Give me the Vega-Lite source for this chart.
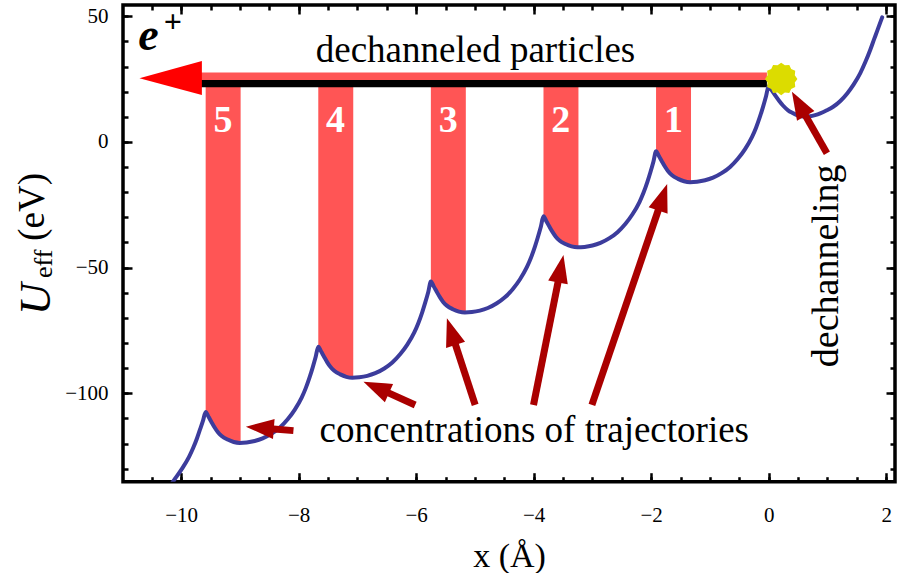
{
  "$schema": "https://vega.github.io/schema/vega-lite/v6.json",
  "width": 772,
  "height": 476.7,
  "autosize": {"type": "none"},
  "padding": {"left": 123, "top": 5, "right": 12, "bottom": 91.3},
  "background": "white",
  "config": {
    "view": {"stroke": "black", "strokeWidth": 3.5},
    "font": "Liberation Serif",
    "axis": {"domain": false, "grid": false, "labelFont": "Liberation Serif", "labelFontSize": 21, "labelColor": "black", "tickColor": "black", "tickWidth": 2.5, "titleFont": "Liberation Serif", "labelFlush": false}
  },
  "resolve": {"axis": {"x": "independent", "y": "independent"}},
  "datasets": {
    "curve": [
      {"x": -10.25, "y": -139}, {"x": -10.104, "y": -134.0}, {"x": -9.985, "y": -130.0}, {"x": -9.866, "y": -125.3}, {"x": -9.798, "y": -121.9}, {"x": -9.73, "y": -117.9}, {"x": -9.679, "y": -114.4}, {"x": -9.628, "y": -110.9},
      {"x": -9.583, "y": -107.42}, {"x": -9.532, "y": -109.45}, {"x": -9.481, "y": -111.6}, {"x": -9.43, "y": -113.63}, {"x": -9.374, "y": -115.54}, {"x": -9.311, "y": -117.01}, {"x": -9.209, "y": -118.44}, {"x": -9.106, "y": -119.4}, {"x": -9.004, "y": -119.76}, {"x": -8.885, "y": -119.59}, {"x": -8.749, "y": -119.02}, {"x": -8.613, "y": -117.97}, {"x": -8.46, "y": -116.09}, {"x": -8.323, "y": -113.71}, {"x": -8.187, "y": -110.36}, {"x": -8.068, "y": -106.6}, {"x": -7.949, "y": -101.73}, {"x": -7.881, "y": -98.07}, {"x": -7.813, "y": -93.61}, {"x": -7.762, "y": -89.79}, {"x": -7.711, "y": -85.61},
      {"x": -7.666, "y": -81.48}, {"x": -7.615, "y": -83.51}, {"x": -7.564, "y": -85.66}, {"x": -7.513, "y": -87.69}, {"x": -7.457, "y": -89.6}, {"x": -7.394, "y": -91.07}, {"x": -7.292, "y": -92.5}, {"x": -7.189, "y": -93.46}, {"x": -7.087, "y": -93.82}, {"x": -6.968, "y": -93.65}, {"x": -6.832, "y": -93.08}, {"x": -6.696, "y": -92.03}, {"x": -6.543, "y": -90.15}, {"x": -6.406, "y": -87.77}, {"x": -6.27, "y": -84.42}, {"x": -6.151, "y": -80.66}, {"x": -6.032, "y": -75.79}, {"x": -5.964, "y": -72.13}, {"x": -5.896, "y": -67.67}, {"x": -5.845, "y": -63.85}, {"x": -5.794, "y": -59.67},
      {"x": -5.75, "y": -55.54}, {"x": -5.699, "y": -57.57}, {"x": -5.648, "y": -59.72}, {"x": -5.597, "y": -61.75}, {"x": -5.541, "y": -63.66}, {"x": -5.478, "y": -65.13}, {"x": -5.376, "y": -66.56}, {"x": -5.273, "y": -67.52}, {"x": -5.171, "y": -67.88}, {"x": -5.052, "y": -67.71}, {"x": -4.916, "y": -67.14}, {"x": -4.78, "y": -66.09}, {"x": -4.627, "y": -64.21}, {"x": -4.49, "y": -61.83}, {"x": -4.354, "y": -58.48}, {"x": -4.235, "y": -54.72}, {"x": -4.116, "y": -49.85}, {"x": -4.048, "y": -46.19}, {"x": -3.98, "y": -41.73}, {"x": -3.929, "y": -37.91}, {"x": -3.878, "y": -33.73},
      {"x": -3.833, "y": -29.6}, {"x": -3.782, "y": -31.63}, {"x": -3.731, "y": -33.78}, {"x": -3.68, "y": -35.81}, {"x": -3.624, "y": -37.72}, {"x": -3.561, "y": -39.19}, {"x": -3.459, "y": -40.62}, {"x": -3.356, "y": -41.58}, {"x": -3.254, "y": -41.94}, {"x": -3.135, "y": -41.77}, {"x": -2.999, "y": -41.2}, {"x": -2.863, "y": -40.15}, {"x": -2.71, "y": -38.27}, {"x": -2.573, "y": -35.89}, {"x": -2.437, "y": -32.54}, {"x": -2.318, "y": -28.78}, {"x": -2.199, "y": -23.91}, {"x": -2.131, "y": -20.25}, {"x": -2.063, "y": -15.79}, {"x": -2.012, "y": -11.97}, {"x": -1.961, "y": -7.79},
      {"x": -1.917, "y": -3.66}, {"x": -1.866, "y": -5.69}, {"x": -1.815, "y": -7.84}, {"x": -1.764, "y": -9.87}, {"x": -1.708, "y": -11.78}, {"x": -1.645, "y": -13.25}, {"x": -1.543, "y": -14.68}, {"x": -1.44, "y": -15.64}, {"x": -1.338, "y": -16.0}, {"x": -1.219, "y": -15.83}, {"x": -1.083, "y": -15.26}, {"x": -0.947, "y": -14.21}, {"x": -0.794, "y": -12.33}, {"x": -0.657, "y": -9.95}, {"x": -0.521, "y": -6.6}, {"x": -0.402, "y": -2.84}, {"x": -0.283, "y": 2.03}, {"x": -0.215, "y": 5.69}, {"x": -0.147, "y": 10.15}, {"x": -0.096, "y": 13.97}, {"x": -0.045, "y": 18.15},
      {"x": 0, "y": 22.28}, {"x": 0.05, "y": 20.6}, {"x": 0.111, "y": 18.55}, {"x": 0.18, "y": 16.3}, {"x": 0.247, "y": 14.4}, {"x": 0.33, "y": 12.6}, {"x": 0.4, "y": 11.6}, {"x": 0.47, "y": 10.8}, {"x": 0.536, "y": 10.3}, {"x": 0.62, "y": 10.0}, {"x": 0.706, "y": 10.2}, {"x": 0.79, "y": 10.7}, {"x": 0.877, "y": 11.4}, {"x": 0.99, "y": 12.6}, {"x": 1.098, "y": 14.0}, {"x": 1.22, "y": 16.3}, {"x": 1.336, "y": 19.3}, {"x": 1.45, "y": 23.0}, {"x": 1.557, "y": 27.3}, {"x": 1.645, "y": 31.8}, {"x": 1.728, "y": 36.6}, {"x": 1.79, "y": 40.6}, {"x": 1.847, "y": 44.2}, {"x": 1.9, "y": 47.6}, {"x": 1.932, "y": 49.6}
    ],
    "bars": [
      {"bar": 5, "x": -9.583, "y": -107.42}, {"bar": 5, "x": -9.532, "y": -109.45}, {"bar": 5, "x": -9.481, "y": -111.6}, {"bar": 5, "x": -9.43, "y": -113.63}, {"bar": 5, "x": -9.374, "y": -115.54}, {"bar": 5, "x": -9.311, "y": -117.01}, {"bar": 5, "x": -9.209, "y": -118.44}, {"bar": 5, "x": -9.106, "y": -119.4}, {"bar": 5, "x": -9.004, "y": -119.76}, {"bar": 5, "x": -8.988, "y": -119.75},
      {"bar": 4, "x": -7.666, "y": -81.48}, {"bar": 4, "x": -7.615, "y": -83.51}, {"bar": 4, "x": -7.564, "y": -85.66}, {"bar": 4, "x": -7.513, "y": -87.69}, {"bar": 4, "x": -7.457, "y": -89.6}, {"bar": 4, "x": -7.394, "y": -91.07}, {"bar": 4, "x": -7.292, "y": -92.5}, {"bar": 4, "x": -7.189, "y": -93.46}, {"bar": 4, "x": -7.087, "y": -93.82}, {"bar": 4, "x": -7.071, "y": -93.81},
      {"bar": 3, "x": -5.75, "y": -55.54}, {"bar": 3, "x": -5.699, "y": -57.57}, {"bar": 3, "x": -5.648, "y": -59.72}, {"bar": 3, "x": -5.597, "y": -61.75}, {"bar": 3, "x": -5.541, "y": -63.66}, {"bar": 3, "x": -5.478, "y": -65.13}, {"bar": 3, "x": -5.376, "y": -66.56}, {"bar": 3, "x": -5.273, "y": -67.52}, {"bar": 3, "x": -5.171, "y": -67.88}, {"bar": 3, "x": -5.155, "y": -67.87},
      {"bar": 2, "x": -3.833, "y": -29.6}, {"bar": 2, "x": -3.782, "y": -31.63}, {"bar": 2, "x": -3.731, "y": -33.78}, {"bar": 2, "x": -3.68, "y": -35.81}, {"bar": 2, "x": -3.624, "y": -37.72}, {"bar": 2, "x": -3.561, "y": -39.19}, {"bar": 2, "x": -3.459, "y": -40.62}, {"bar": 2, "x": -3.356, "y": -41.58}, {"bar": 2, "x": -3.254, "y": -41.94}, {"bar": 2, "x": -3.238, "y": -41.93},
      {"bar": 1, "x": -1.917, "y": -3.66}, {"bar": 1, "x": -1.866, "y": -5.69}, {"bar": 1, "x": -1.815, "y": -7.84}, {"bar": 1, "x": -1.764, "y": -9.87}, {"bar": 1, "x": -1.708, "y": -11.78}, {"bar": 1, "x": -1.645, "y": -13.25}, {"bar": 1, "x": -1.543, "y": -14.68}, {"bar": 1, "x": -1.44, "y": -15.64}, {"bar": 1, "x": -1.338, "y": -16.0}, {"bar": 1, "x": -1.322, "y": -15.99}
    ],
    "shafts": [
      {"id": "A", "x": 0.991, "y": -4.5, "x2": 0.579, "y2": 12.41},
      {"id": "B", "x": -8.089, "y": -114.88, "x2": -8.526, "y2": -114.01},
      {"id": "C", "x": -6.017, "y": -104.66, "x2": -6.557, "y2": -98.97},
      {"id": "D", "x": -4.996, "y": -104.66, "x2": -5.362, "y2": -78.47},
      {"id": "E", "x": -4.003, "y": -104.66, "x2": -3.566, "y2": -53.56},
      {"id": "F", "x": -3.009, "y": -104.66, "x2": -1.848, "y2": -24.99}
    ],
    "heads": [
      {"id": "A", "x": 0.395, "lo": 20.02, "hi": 20.02}, {"id": "A", "x": 0.482, "lo": 8.4, "hi": 18.27}, {"id": "A", "x": 0.778, "lo": 12.3, "hi": 12.3},
      {"id": "B", "x": -8.899, "lo": -113.29, "hi": -113.29}, {"id": "B", "x": -8.437, "lo": -118.18, "hi": -110.44}, {"id": "B", "x": -8.41, "lo": -110.27, "hi": -110.27},
      {"id": "C", "x": -6.897, "lo": -95.38, "hi": -95.38}, {"id": "C", "x": -6.533, "lo": -103.58, "hi": -96.07}, {"id": "C", "x": -6.393, "lo": -96.34, "hi": -96.34},
      {"id": "D", "x": -5.491, "lo": -81.97, "hi": -81.97}, {"id": "D", "x": -5.477, "lo": -81.86, "hi": -70.16}, {"id": "D", "x": -5.168, "lo": -79.51, "hi": -79.51},
      {"id": "E", "x": -3.753, "lo": -55.11, "hi": -55.11}, {"id": "E", "x": -3.493, "lo": -56.33, "hi": -44.97}, {"id": "E", "x": -3.42, "lo": -56.67, "hi": -56.67},
      {"id": "F", "x": -2.043, "lo": -25.98, "hi": -25.98}, {"id": "F", "x": -1.728, "lo": -28.47, "hi": -16.71}, {"id": "F", "x": -1.721, "lo": -28.53, "hi": -28.53}
    ]
  },
  "layer": [
    {
      "mark": {"type": "rule", "color": "black", "strokeWidth": 1.2},
      "encoding": {"x": {"datum": 0, "type": "quantitative", "scale": {"domain": [-10.99, 2.15], "nice": false, "zero": false}, "axis": null}}
    },
    {
      "mark": {"type": "rule", "color": "black", "strokeWidth": 1.2},
      "encoding": {"y": {"datum": 0, "type": "quantitative", "scale": {"domain": [-135.2, 54.5], "nice": false, "zero": false}, "axis": null}}
    },
    {
      "data": {"name": "bars"},
      "mark": {"type": "area", "color": "#FF5555", "opacity": 1, "interpolate": "monotone"},
      "encoding": {
        "x": {"field": "x", "type": "quantitative", "scale": {"domain": [-10.99, 2.15], "nice": false, "zero": false},
              "axis": {"orient": "bottom", "values": [-10.5, -10, -9.5, -9, -8.5, -8, -7.5, -7, -6.5, -6, -5.5, -5, -4.5, -4, -3.5, -3, -2.5, -2, -1.5, -1, -0.5, 0, 0.5, 1, 1.5, 2], "tickSize": -5, "labels": false, "title": null}},
        "y": {"field": "y", "type": "quantitative", "scale": {"domain": [-135.2, 54.5], "nice": false, "zero": false},
              "axis": {"orient": "left", "values": [-130, -120, -110, -100, -90, -80, -70, -60, -50, -40, -30, -20, -10, 0, 10, 20, 30, 40, 50], "tickSize": -5, "labels": false, "title": null}},
        "y2": {"datum": 24.7},
        "detail": {"field": "bar"}
      }
    },
    {
      "data": {"values": [{"x": -9.673, "x2": -0.03, "y": 24.7, "y2": 27.6}]},
      "mark": {"type": "rect", "color": "#FF5555"},
      "encoding": {
        "x": {"field": "x", "type": "quantitative", "scale": {"domain": [-10.99, 2.15], "nice": false, "zero": false},
              "axis": {"orient": "top", "values": [-10, -8, -6, -4, -2, 0, 2], "tickSize": -9, "labels": false, "title": null}},
        "x2": {"field": "x2"},
        "y": {"field": "y", "type": "quantitative", "scale": {"domain": [-135.2, 54.5], "nice": false, "zero": false},
              "axis": {"orient": "right", "values": [-100, -50, 0, 50], "tickSize": -9, "labels": false, "title": null}},
        "y2": {"field": "y2"}
      }
    },
    {
      "data": {"values": [{"x": -9.707, "x2": -0.03, "y": 21.8, "y2": 24.7}]},
      "mark": {"type": "rect", "color": "black"},
      "encoding": {
        "x": {"field": "x", "type": "quantitative", "scale": {"domain": [-10.99, 2.15], "nice": false, "zero": false},
              "axis": {"orient": "top", "values": [-10.5, -10, -9.5, -9, -8.5, -8, -7.5, -7, -6.5, -6, -5.5, -5, -4.5, -4, -3.5, -3, -2.5, -2, -1.5, -1, -0.5, 0, 0.5, 1, 1.5, 2], "tickSize": -5, "labels": false, "title": null}},
        "x2": {"field": "x2"},
        "y": {"field": "y", "type": "quantitative", "scale": {"domain": [-135.2, 54.5], "nice": false, "zero": false},
              "axis": {"orient": "right", "values": [-130, -120, -110, -100, -90, -80, -70, -60, -50, -40, -30, -20, -10, 0, 10, 20, 30, 40, 50], "tickSize": -5, "labels": false, "title": null}},
        "y2": {"field": "y2"}
      }
    },
    {
      "data": {"values": [{"x": -10.71, "lo": 25.35, "hi": 25.35}, {"x": -9.648, "lo": 18.7, "hi": 32.2}]},
      "mark": {"type": "area", "color": "#FF0000", "opacity": 1},
      "encoding": {
        "x": {"field": "x", "type": "quantitative", "scale": {"domain": [-10.99, 2.15], "nice": false, "zero": false}, "axis": null},
        "y": {"field": "lo", "type": "quantitative", "scale": {"domain": [-135.2, 54.5], "nice": false, "zero": false}, "axis": null},
        "y2": {"field": "hi"}
      }
    },
    {
      "data": {"name": "curve"},
      "mark": {"type": "line", "color": "#3C3C9C", "strokeWidth": 4, "clip": true, "strokeCap": "round", "strokeJoin": "round", "interpolate": "monotone"},
      "encoding": {
        "x": {"field": "x", "type": "quantitative", "scale": {"domain": [-10.99, 2.15], "nice": false, "zero": false},
              "axis": {"orient": "bottom", "values": [-10, -8, -6, -4, -2, 0, 2], "tickSize": -9, "labelPadding": 32, "title": "x (Å)", "titleFontSize": 34, "titleFontWeight": "normal", "titleColor": "black", "titleY": 85, "titleBaseline": "alphabetic"}},
        "y": {"field": "y", "type": "quantitative", "scale": {"domain": [-135.2, 54.5], "nice": false, "zero": false},
              "axis": {"orient": "left", "values": [-100, -50, 0, 50], "tickSize": -9, "labelPadding": 24, "title": null}}
      }
    },
    {
      "data": {"values": [{"x": 0.213, "y": 25.07}]},
      "mark": {"type": "point", "filled": true, "opacity": 1, "color": "#DCDC00", "size": 1050,
               "shape": "M1,0L0.84,0.225L0.866,0.5L0.615,0.615L0.5,0.866L0.225,0.84L0,1L-0.225,0.84L-0.5,0.866L-0.615,0.615L-0.866,0.5L-0.84,0.225L-1,0L-0.84,-0.225L-0.866,-0.5L-0.615,-0.615L-0.5,-0.866L-0.225,-0.84L0,-1L0.225,-0.84L0.5,-0.866L0.615,-0.615L0.866,-0.5L0.84,-0.225Z"},
      "encoding": {
        "x": {"field": "x", "type": "quantitative", "scale": {"domain": [-10.99, 2.15], "nice": false, "zero": false}, "axis": null},
        "y": {"field": "y", "type": "quantitative", "scale": {"domain": [-135.2, 54.5], "nice": false, "zero": false}, "axis": null}
      }
    },
    {
      "data": {"name": "shafts"},
      "mark": {"type": "rule", "color": "#AA0000", "strokeWidth": 7, "strokeCap": "butt"},
      "encoding": {
        "x": {"field": "x", "type": "quantitative", "scale": {"domain": [-10.99, 2.15], "nice": false, "zero": false}, "axis": null},
        "y": {"field": "y", "type": "quantitative", "scale": {"domain": [-135.2, 54.5], "nice": false, "zero": false}, "axis": null},
        "x2": {"field": "x2"},
        "y2": {"field": "y2"}
      }
    },
    {
      "data": {"name": "heads"},
      "mark": {"type": "area", "color": "#AA0000", "opacity": 1},
      "encoding": {
        "x": {"field": "x", "type": "quantitative", "scale": {"domain": [-10.99, 2.15], "nice": false, "zero": false}, "axis": null},
        "y": {"field": "lo", "type": "quantitative", "scale": {"domain": [-135.2, 54.5], "nice": false, "zero": false}, "axis": null},
        "y2": {"field": "hi"},
        "detail": {"field": "id"}
      }
    },
    {
      "data": {"values": [{"x": -4.99, "y": 31.8, "t": "dechanneled particles"}, {"x": -3.99, "y": -119.4, "t": "concentrations of trajectories"}]},
      "mark": {"type": "text", "font": "Liberation Serif", "fontSize": 37, "color": "black", "align": "center", "baseline": "alphabetic"},
      "encoding": {
        "x": {"field": "x", "type": "quantitative", "scale": {"domain": [-10.99, 2.15], "nice": false, "zero": false}, "axis": null},
        "y": {"field": "y", "type": "quantitative", "scale": {"domain": [-135.2, 54.5], "nice": false, "zero": false}, "axis": null},
        "text": {"field": "t"}
      }
    },
    {
      "data": {"values": [{"x": 1.183, "y": -49.3, "t": "dechanneling"}]},
      "mark": {"type": "text", "font": "Liberation Serif", "fontSize": 38, "color": "black", "align": "center", "baseline": "alphabetic", "angle": 270},
      "encoding": {
        "x": {"field": "x", "type": "quantitative", "scale": {"domain": [-10.99, 2.15], "nice": false, "zero": false}, "axis": null},
        "y": {"field": "y", "type": "quantitative", "scale": {"domain": [-135.2, 54.5], "nice": false, "zero": false}, "axis": null},
        "text": {"field": "t"}
      }
    },
    {
      "data": {"values": [{"x": -9.288, "y": 4.1, "t": "5"}, {"x": -7.371, "y": 4.1, "t": "4"}, {"x": -5.455, "y": 4.1, "t": "3"}, {"x": -3.538, "y": 4.1, "t": "2"}, {"x": -1.622, "y": 4.1, "t": "1"}]},
      "mark": {"type": "text", "font": "Liberation Serif", "fontSize": 38, "fontWeight": "bold", "color": "white", "align": "center", "baseline": "alphabetic"},
      "encoding": {
        "x": {"field": "x", "type": "quantitative", "scale": {"domain": [-10.99, 2.15], "nice": false, "zero": false}, "axis": null},
        "y": {"field": "y", "type": "quantitative", "scale": {"domain": [-135.2, 54.5], "nice": false, "zero": false}, "axis": null},
        "text": {"field": "t"}
      }
    },
    {
      "data": {"values": [{"x": -10.73, "y": 36.6, "t": "e"}]},
      "mark": {"type": "text", "font": "Liberation Serif", "fontSize": 46, "fontWeight": "bold", "fontStyle": "italic", "color": "black", "align": "left", "baseline": "alphabetic"},
      "encoding": {
        "x": {"field": "x", "type": "quantitative", "scale": {"domain": [-10.99, 2.15], "nice": false, "zero": false}, "axis": null},
        "y": {"field": "y", "type": "quantitative", "scale": {"domain": [-135.2, 54.5], "nice": false, "zero": false}, "axis": null},
        "text": {"field": "t"}
      }
    },
    {
      "data": {"values": [{"x": -10.14, "y": 43.6, "t": "+"}]},
      "mark": {"type": "text", "font": "Liberation Serif", "fontSize": 32, "fontWeight": "bold", "color": "black", "align": "center", "baseline": "alphabetic"},
      "encoding": {
        "x": {"field": "x", "type": "quantitative", "scale": {"domain": [-10.99, 2.15], "nice": false, "zero": false}, "axis": null},
        "y": {"field": "y", "type": "quantitative", "scale": {"domain": [-135.2, 54.5], "nice": false, "zero": false}, "axis": null},
        "text": {"field": "t"}
      }
    },
    {
      "data": {"values": [{"x": -12.23, "y": -68.84, "t": "U"}]},
      "mark": {"type": "text", "font": "Liberation Serif", "fontSize": 44, "fontStyle": "italic", "color": "black", "align": "left", "baseline": "alphabetic", "angle": 270},
      "encoding": {
        "x": {"field": "x", "type": "quantitative", "scale": {"domain": [-10.99, 2.15], "nice": false, "zero": false}, "axis": null},
        "y": {"field": "y", "type": "quantitative", "scale": {"domain": [-135.2, 54.5], "nice": false, "zero": false}, "axis": null},
        "text": {"field": "t"}
      }
    },
    {
      "data": {"values": [{"x": -12.196, "y": -54.12, "t": "eff"}]},
      "mark": {"type": "text", "font": "Liberation Serif", "fontSize": 26, "color": "black", "align": "left", "baseline": "alphabetic", "angle": 270},
      "encoding": {
        "x": {"field": "x", "type": "quantitative", "scale": {"domain": [-10.99, 2.15], "nice": false, "zero": false}, "axis": null},
        "y": {"field": "y", "type": "quantitative", "scale": {"domain": [-135.2, 54.5], "nice": false, "zero": false}, "axis": null},
        "text": {"field": "t"}
      }
    },
    {
      "data": {"values": [{"x": -12.34, "y": -39.3, "t": "(eV)"}]},
      "mark": {"type": "text", "font": "Liberation Serif", "fontSize": 37, "color": "black", "align": "left", "baseline": "alphabetic", "angle": 270},
      "encoding": {
        "x": {"field": "x", "type": "quantitative", "scale": {"domain": [-10.99, 2.15], "nice": false, "zero": false}, "axis": null},
        "y": {"field": "y", "type": "quantitative", "scale": {"domain": [-135.2, 54.5], "nice": false, "zero": false}, "axis": null},
        "text": {"field": "t"}
      }
    }
  ]
}
